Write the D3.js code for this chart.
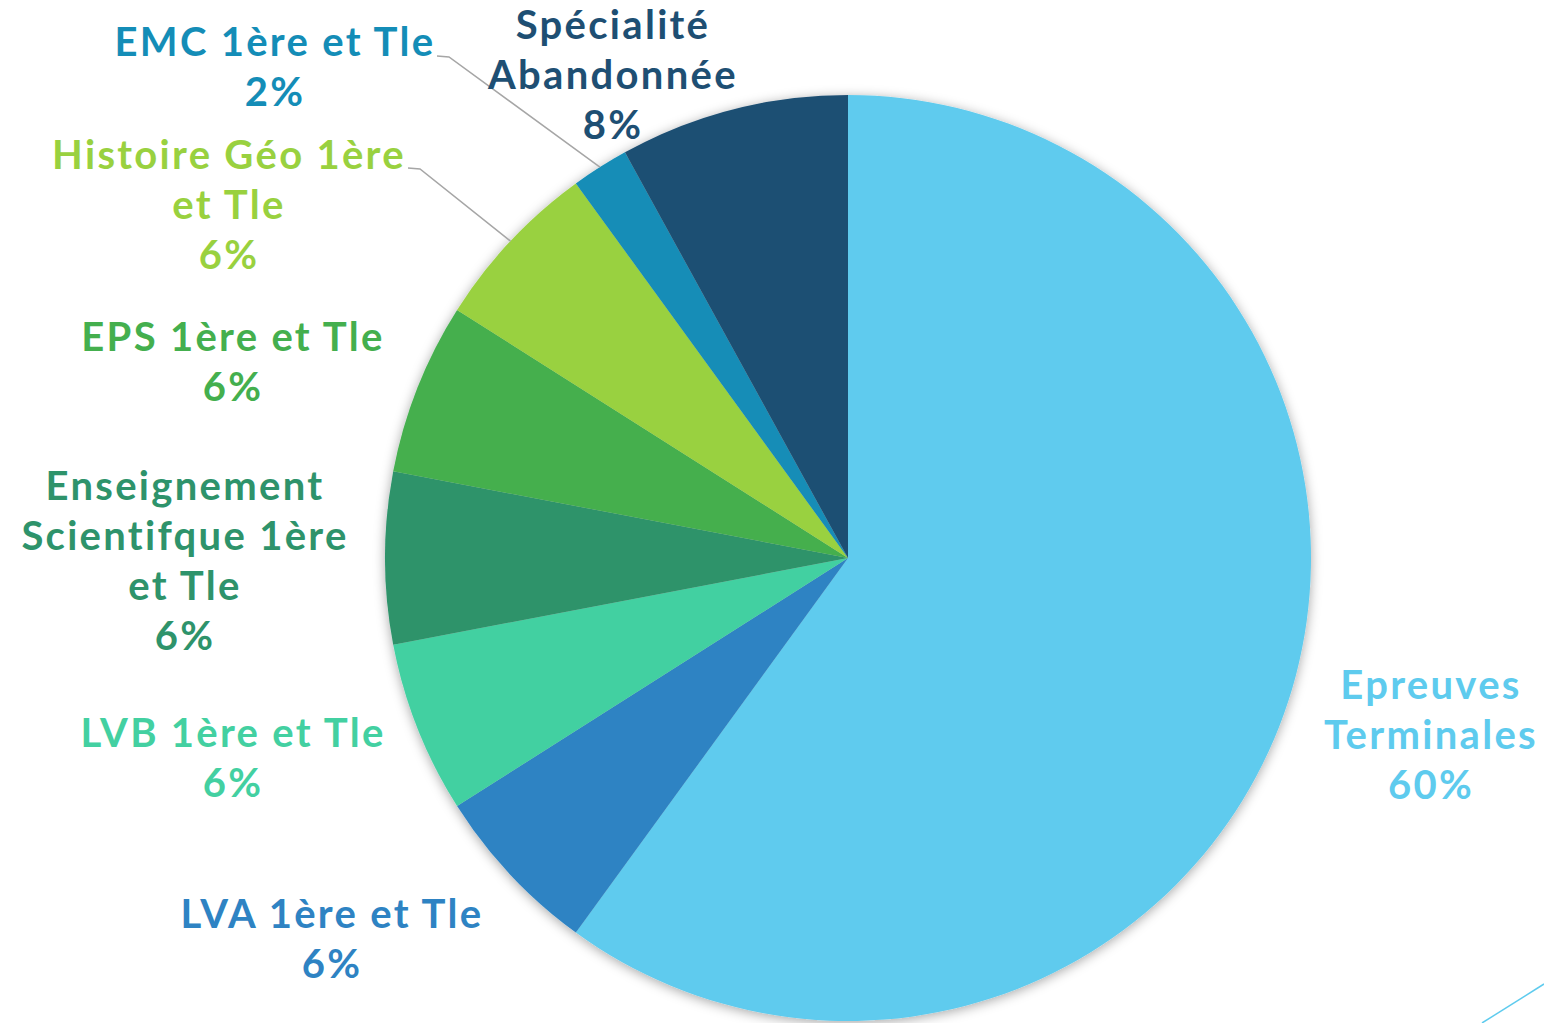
<!DOCTYPE html>
<html>
<head>
<meta charset="utf-8">
<script src="https://cdn.jsdelivr.net/npm/d3@7"></script>
<style>
  body { margin: 0; background: #fff; }
  svg { display: block; }
  text { font-family: Lato, "Open Sans", sans-serif; font-weight: 700; font-variant-ligatures: none; letter-spacing: 2.3px; }
</style>
</head>
<body>
<div id="mainbox"></div>
<script>
// data (clockwise from 12 o'clock)
const categories = ['Epreuves Terminales', 'LVA 1ère et Tle', 'LVB 1ère et Tle',
  'Enseignement Scientifque 1ère et Tle', 'EPS 1ère et Tle', 'Histoire Géo 1ère et Tle',
  'EMC 1ère et Tle', 'Spécialité Abandonnée'];
const values = [60, 6, 6, 6, 6, 6, 2, 8];
const colors = ['#5ECBEE', '#2E83C3', '#43D0A1', '#2E936B', '#44AF4E', '#99D13F', '#148DB7', '#1E4F73'];

// how each label is broken into lines
const labelLines = [
  ['Epreuves', 'Terminales'],
  ['LVA 1ère et Tle'],
  ['LVB 1ère et Tle'],
  ['Enseignement', 'Scientifque 1ère', 'et Tle'],
  ['EPS 1ère et Tle'],
  ['Histoire Géo 1ère', 'et Tle'],
  ['EMC 1ère et Tle'],
  ['Spécialité', 'Abandonnée']
];
// label centre x / first line centre y
const labelPos = [[1430, 685], [331, 914], [232, 733], [184, 486], [232, 337], [228, 155], [274, 42], [612, 25]];
// leader line start (end of label text), only for some
const leaders = {5: [408, 168], 6: [437, 56]};

const W = 1544, H = 1023;
const cx = 848, cy = 558, r = 463;
const lineH = 50;

const svg = d3.select('#mainbox').append('svg')
  .attr('width', W).attr('height', H);

const defs = svg.append('defs');
const filt = defs.append('filter').attr('id', 'shadow')
  .attr('x', '-10%').attr('y', '-10%').attr('width', '120%').attr('height', '120%');
filt.append('feDropShadow')
  .attr('dx', 0).attr('dy', 2).attr('stdDeviation', 6)
  .attr('flood-color', '#000').attr('flood-opacity', 0.35);

const pie = d3.pie().sort(null).value(d => d)(values);
const arc = d3.arc().innerRadius(0).outerRadius(r);

const plot = svg.append('g').attr('transform', `translate(${cx},${cy})`);

plot.append('g').attr('filter', 'url(#shadow)')
  .selectAll('path')
  .data(pie)
  .join('path')
  .attr('d', arc)
  .attr('fill', (d, i) => colors[i]);

// leader lines
Object.keys(leaders).forEach(k => {
  const i = +k;
  const p = pie[i];
  const a = (p.startAngle + p.endAngle) / 2;
  const ex = cx + r * Math.sin(a), ey = cy - r * Math.cos(a);
  const [sx, sy] = leaders[k];
  svg.append('polyline')
    .attr('points', `${sx},${sy} ${sx + 12},${sy + 1} ${ex},${ey}`)
    .attr('fill', 'none')
    .attr('stroke', '#a6a6a6')
    .attr('stroke-width', 1.5);
});

// labels
const labels = svg.append('g');
pie.forEach((p, i) => {
  const lines = labelLines[i].concat([values[i] + '%']);
  const t = labels.append('text')
    .attr('text-anchor', 'middle')
    .attr('fill', colors[i])
    .attr('font-size', 40);
  lines.forEach((l, j) => {
    t.append('tspan')
      .attr('x', labelPos[i][0] + 1)
      .attr('y', labelPos[i][1] + j * lineH)
      .attr('dy', '0.35em')
      .text(l);
  });
});

// decorative line bottom right
svg.append('line')
  .attr('x1', 1482).attr('y1', 1023).attr('x2', 1544).attr('y2', 984)
  .attr('stroke', '#5ECBEE').attr('stroke-width', 1.5);
</script>
</body>
</html>
